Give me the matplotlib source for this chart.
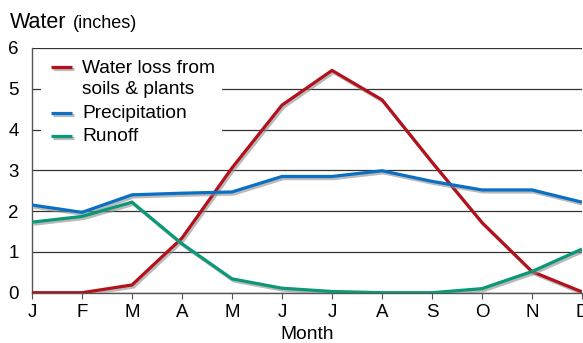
import numpy as np
import matplotlib.pyplot as plt
import matplotlib.patheffects as pe
from matplotlib.patches import Rectangle

plt.rcParams['font.family'] = ['Liberation Sans', 'DejaVu Sans']

months = ['J', 'F', 'M', 'A', 'M', 'J', 'J', 'A', 'S', 'O', 'N', 'D']
water_loss = [0.0, 0.0, 0.19, 1.34, 3.06, 4.6, 5.45, 4.73, 3.2, 1.72, 0.52, 0.02]
precipitation = [2.15, 1.97, 2.4, 2.44, 2.47, 2.85, 2.85, 2.99, 2.73, 2.52, 2.52, 2.22]
runoff = [1.73, 1.87, 2.22, 1.2, 0.34, 0.11, 0.03, 0.0, 0.0, 0.1, 0.52, 1.07]

series = [
    ('Water loss from\nsoils & plants', water_loss, '#b3121c'),
    ('Precipitation', precipitation, '#0b70c4'),
    ('Runoff', runoff, '#0a9877'),
]

fig = plt.figure(figsize=(5.83, 3.43), dpi=100)
ax = fig.add_axes([32 / 583, 50.3 / 343, 550 / 583, 244.7 / 343])

x = np.arange(len(months))
shadow = [pe.SimpleLineShadow(offset=(1.2, -1.5), shadow_color='0.55', alpha=0.6),
          pe.Normal()]
for label, vals, col in series:
    ax.plot(x, vals, color=col, lw=2.3, zorder=3,
            solid_joinstyle='miter', solid_capstyle='butt', path_effects=shadow)

ax.set_xlim(0, 11)
ax.set_ylim(0, 6)
ax.set_yticks(range(7))
ax.set_xticks(x)
ax.set_xticklabels(months)
ax.yaxis.grid(True, color='#333333', lw=0.9)
ax.set_axisbelow(True)
for s in ['top', 'right']:
    ax.spines[s].set_visible(False)
for s in ['left', 'bottom']:
    ax.spines[s].set_color('#555555')
    ax.spines[s].set_linewidth(1.0)
ax.tick_params(axis='y', length=0, pad=9.5, labelsize=13.5)
ax.tick_params(axis='x', length=4, color='#555555', pad=4, labelsize=13.5)
ax.set_xlabel('Month', fontsize=13.8, labelpad=3.5)

# legend drawn by hand: white box over the grid, short shadowed handles
ax.add_patch(Rectangle((0.016, 0.57), 0.33, 0.414, transform=ax.transAxes,
                       facecolor='white', edgecolor='none', zorder=2))
rows = [0.922, 0.734, 0.640]
for (label, vals, col), yr in zip(series, rows):
    ax.plot([0.0345, 0.0727], [yr, yr], transform=ax.transAxes, color=col,
            lw=2.3, solid_capstyle='butt', path_effects=shadow, zorder=4,
            clip_on=False)
    if '\n' in label:
        ax.text(0.091, 0.953, label, transform=ax.transAxes, fontsize=13.8,
                va='top', ha='left', linespacing=1.38, zorder=4)
    else:
        ax.text(0.091, yr, label, transform=ax.transAxes, fontsize=13.8,
                va='center', ha='left', zorder=4)

fig.text(10 / 583, 1 - 28 / 343, 'Water', fontsize=15.5, ha='left', va='baseline')
fig.text(73 / 583, 1 - 28 / 343, '(inches)', fontsize=13, ha='left', va='baseline')

fig.savefig('out.png', dpi=100)
